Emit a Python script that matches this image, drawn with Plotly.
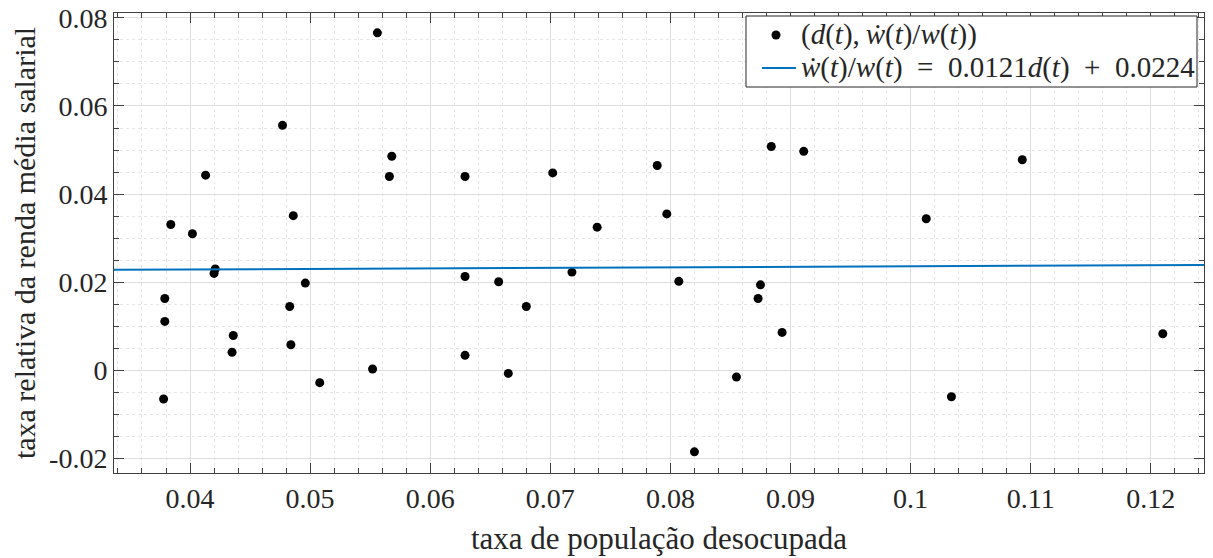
import plotly.graph_objects as go

# data
d_vals = [0.0556, 0.0477, 0.0568, 0.0566, 0.0413, 0.0486, 0.0384, 0.0402, 0.0421, 0.0420,
          0.0496, 0.0379, 0.0483, 0.0379, 0.0436, 0.0484, 0.0435, 0.0552, 0.0508, 0.0378,
          0.0629, 0.0702, 0.0789, 0.0797, 0.0739, 0.0629, 0.0657, 0.0680, 0.0718, 0.0807,
          0.0629, 0.0665, 0.0820, 0.0855, 0.0884, 0.0911, 0.1093, 0.1013, 0.0875, 0.0873,
          0.0893, 0.1034, 0.1210]
w_vals = [0.0766, 0.0556, 0.0486, 0.0440, 0.0443, 0.0351, 0.0331, 0.0310, 0.0230, 0.0220,
          0.0198, 0.0163, 0.0145, 0.0111, 0.0079, 0.0058, 0.0041, 0.0003, -0.0028, -0.0065,
          0.0440, 0.0448, 0.0465, 0.0355, 0.0325, 0.0213, 0.0201, 0.0145, 0.0223, 0.0202,
          0.0034, -0.0007, -0.0185, -0.0015, 0.0508, 0.0497, 0.0478, 0.0344, 0.0194, 0.0163,
          0.0086, -0.0060, 0.0083]
fit_x = [0.03367, 0.12443]
fit_y = [0.02281, 0.02391]
x_ticks = [0.04, 0.05, 0.06, 0.07, 0.08, 0.09, 0.10, 0.11, 0.12]
x_ticklabels = ["0.04", "0.05", "0.06", "0.07", "0.08", "0.09", "0.1", "0.11", "0.12"]
y_ticks = [-0.02, 0.0, 0.02, 0.04, 0.06, 0.08]
y_ticklabels = ["-0.02", "0", "0.02", "0.04", "0.06", "0.08"]

FONT = "Liberation Serif, Times New Roman, serif"
TXT = "#262626"
AX = "#404040"
SP = "\u2002"
BLUE = "#0072BD"

name_pts = "(<i>d</i>(<i>t</i>),\u2009<i>ẇ</i>(<i>t</i>)/<i>w</i>(<i>t</i>))"
name_fit = ("<i>ẇ</i>(<i>t</i>)/<i>w</i>(<i>t</i>)" + SP + "=" + SP +
            "0.0121<i>d</i>(<i>t</i>)" + SP + "+" + SP + "0.0224")

fig = go.Figure()
fig.add_trace(go.Scatter(
    x=d_vals, y=w_vals, mode="markers",
    marker=dict(color="black", size=9), name=name_pts,
))
fig.add_trace(go.Scatter(
    x=fit_x, y=fit_y, mode="lines",
    line=dict(color=BLUE, width=2), name=name_fit,
))

# plot area in pixels: x 114..1204, y 13..473
L, R, T, B = 114, 1204, 13, 473
def px(xp):
    return (xp - L) / (R - L)
def py(yp):
    return (B - yp) / (B - T)

# legend box drawn as shapes + text annotations
shapes = [
    dict(type="rect", xref="paper", yref="paper", x0=px(746), x1=px(1197), y0=py(87), y1=py(16),
         line=dict(color="#262626", width=1), fillcolor="white", layer="above"),
    dict(type="circle", xref="paper", yref="paper", xsizemode="pixel", ysizemode="pixel",
         xanchor=px(776), yanchor=py(35), x0=-4.5, x1=4.5, y0=-4.5, y1=4.5,
         fillcolor="black", line=dict(color="black", width=0), layer="above"),
    dict(type="line", xref="paper", yref="paper", x0=px(762), x1=px(796), y0=py(68), y1=py(68),
         line=dict(color=BLUE, width=2), layer="above"),
]
annotations = [
    dict(xref="paper", yref="paper", x=px(799), y=py(35), xanchor="left", yanchor="middle",
         text=name_pts, showarrow=False, font=dict(family=FONT, size=29, color=TXT)),
    dict(xref="paper", yref="paper", x=px(799), y=py(68), xanchor="left", yanchor="middle",
         text=name_fit, showarrow=False, font=dict(family=FONT, size=29, color=TXT)),
]

axis_common = dict(
    showline=True, linecolor=AX, linewidth=1, mirror="all",
    ticks="inside", ticklen=10, tickcolor=AX, tickwidth=1,
    showgrid=True, gridcolor="#dedede", gridwidth=1,
    zeroline=False, automargin=False,
    tickfont=dict(family=FONT, size=28, color=TXT),
)

fig.update_layout(
    width=1213, height=558,
    margin=dict(l=L, r=1213 - R, t=T, b=558 - B),
    paper_bgcolor="white", plot_bgcolor="white",
    font=dict(family=FONT, size=28, color=TXT),
    showlegend=False,
    shapes=shapes, annotations=annotations,
    xaxis=dict(
        axis_common,
        range=[0.03367, 0.12443],
        tickmode="array", tickvals=x_ticks, ticktext=x_ticklabels,
        title=dict(text="taxa de população desocupada", font=dict(family=FONT, size=31, color=TXT), standoff=14),
        minor=dict(dtick=0.002, tick0=0.0, ticks="inside", ticklen=5, tickcolor=AX,
                   showgrid=True, gridcolor="#e6e6e6", griddash="dot", gridwidth=1),
    ),
    yaxis=dict(
        axis_common,
        range=[-0.0233, 0.0811],
        tickmode="array", tickvals=y_ticks, ticktext=y_ticklabels,
        title=dict(text="taxa relativa da renda média salarial", font=dict(family=FONT, size=30, color=TXT), standoff=4),
        minor=dict(dtick=0.005, tick0=0.0, ticks="inside", ticklen=5, tickcolor=AX,
                   showgrid=True, gridcolor="#e6e6e6", griddash="dot", gridwidth=1),
    ),
)

fig.write_html("out.html")
